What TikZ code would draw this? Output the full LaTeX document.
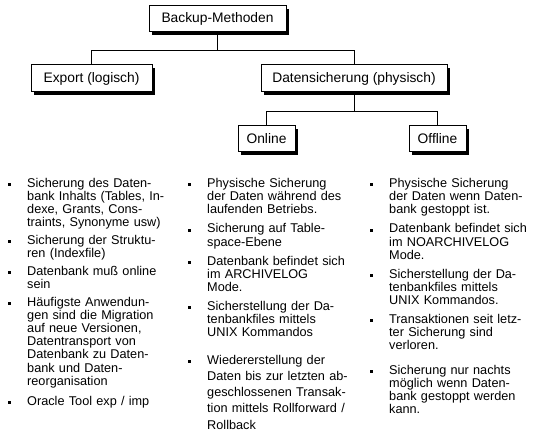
\documentclass[tikz,border=0pt]{standalone}
\usepackage{fontspec}
\setmainfont{Liberation Sans}
\usepackage{tikz}
\usetikzlibrary{positioning, shadows, calc}

\begin{document}
\begin{tikzpicture}[x=1pt, y=-1pt,
	kasten/.style={rectangle, draw=black, line width=1pt, fill=white, inner sep=0pt,
		minimum height=26pt, font=\fontsize{13.8}{16}\selectfont,
		drop shadow={shadow xshift=3pt, shadow yshift=-3pt, fill=black, opacity=1}},
	eintrag/.style={anchor=base west, align=left, text width=160pt, inner sep=0pt,
		font=\fontsize{12.7}{13.2}\selectfont},
	weit/.style={font=\fontsize{12.7}{16.3}\selectfont},
	punkt/.style={rectangle, fill=black, inner sep=0pt, minimum size=3pt},
	ast/.style={line width=1pt}]

	\useasboundingbox (0,0) rectangle (541,441);

	\node[kasten, minimum width=137pt] (backup) at (217.5,19) {Backup-Methoden};
	\node[kasten, minimum width=121pt, minimum height=27pt] (export) at (91.5,78.5) {Export (logisch)};
	\node[kasten, minimum width=186pt, minimum height=27pt] (daten) at (354,78.5) {Datensicherung (physisch)};
	\node[kasten, minimum width=57pt] (online) at (266.5,139) {Online};
	\node[kasten, minimum width=57pt] (offline) at (437.5,139) {Offline};

	\draw[ast] (backup.south) -- ++(0,18) -| (export.north);
	\draw[ast] (backup.south) -- ++(0,18) -| (daten.north);
	\draw[ast] (daten.south) -- ++(0,19) -| (online.north);
	\draw[ast] (daten.south) -- ++(0,19) -| (offline.north);

	\node[eintrag] (e1) at (27,187) {Sicherung des Daten-\\bank Inhalts (Tables, In-\\dexe, Grants, Cons-\\traints, Synonyme usw)};
	\node[eintrag] (e2) at (27,244) {Sicherung der Struktu-\\ren (Indexfile)};
	\node[eintrag] (e3) at (27,275) {Datenbank muß online\\sein};
	\node[eintrag] (e4) at (27,306) {Häufigste Anwendun-\\gen sind die Migration\\auf neue Versionen,\\Datentransport von\\Datenbank zu Daten-\\bank und Daten-\\reorganisation};
	\node[eintrag] (e5) at (27,405) {Oracle Tool exp / imp};

	\node[eintrag] (o1) at (207,187) {Physische Sicherung\\der Daten während des\\laufenden Betriebs.};
	\node[eintrag] (o2) at (207,233) {Sicherung auf Table-\\space-Ebene};
	\node[eintrag] (o3) at (207,265) {Datenbank befindet sich\\im ARCHIVELOG\\Mode.};
	\node[eintrag] (o4) at (207,310) {Sicherstellung der Da-\\tenbankfiles mittels\\UNIX Kommandos};
	\node[eintrag, weit] (o5) at (207,364) {Wiedererstellung der\\Daten bis zur letzten ab-\\geschlossenen Transak-\\tion mittels Rollforward /\\Rollback};

	\node[eintrag] (f1) at (389,187) {Physische Sicherung\\der Daten wenn Daten-\\bank gestoppt ist.};
	\node[eintrag] (f2) at (389,233) {Datenbank befindet sich\\im NOARCHIVELOG\\Mode.};
	\node[eintrag] (f3) at (389,278) {Sicherstellung der Da-\\tenbankfiles mittels\\UNIX Kommandos.};
	\node[eintrag] (f4) at (389,323) {Transaktionen seit letz-\\ter Sicherung sind\\verloren.};
	\node[eintrag] (f5) at (389,374) {Sicherung nur nachts\\möglich wenn Daten-\\bank gestoppt werden\\kann.};

	\foreach \s in {e,o,f}
		\foreach \i in {1,...,5}
			\node[punkt] (p\s\i) at ([xshift=-18pt, yshift=2.8pt]\s\i.base west) {};
\end{tikzpicture}
\end{document}
